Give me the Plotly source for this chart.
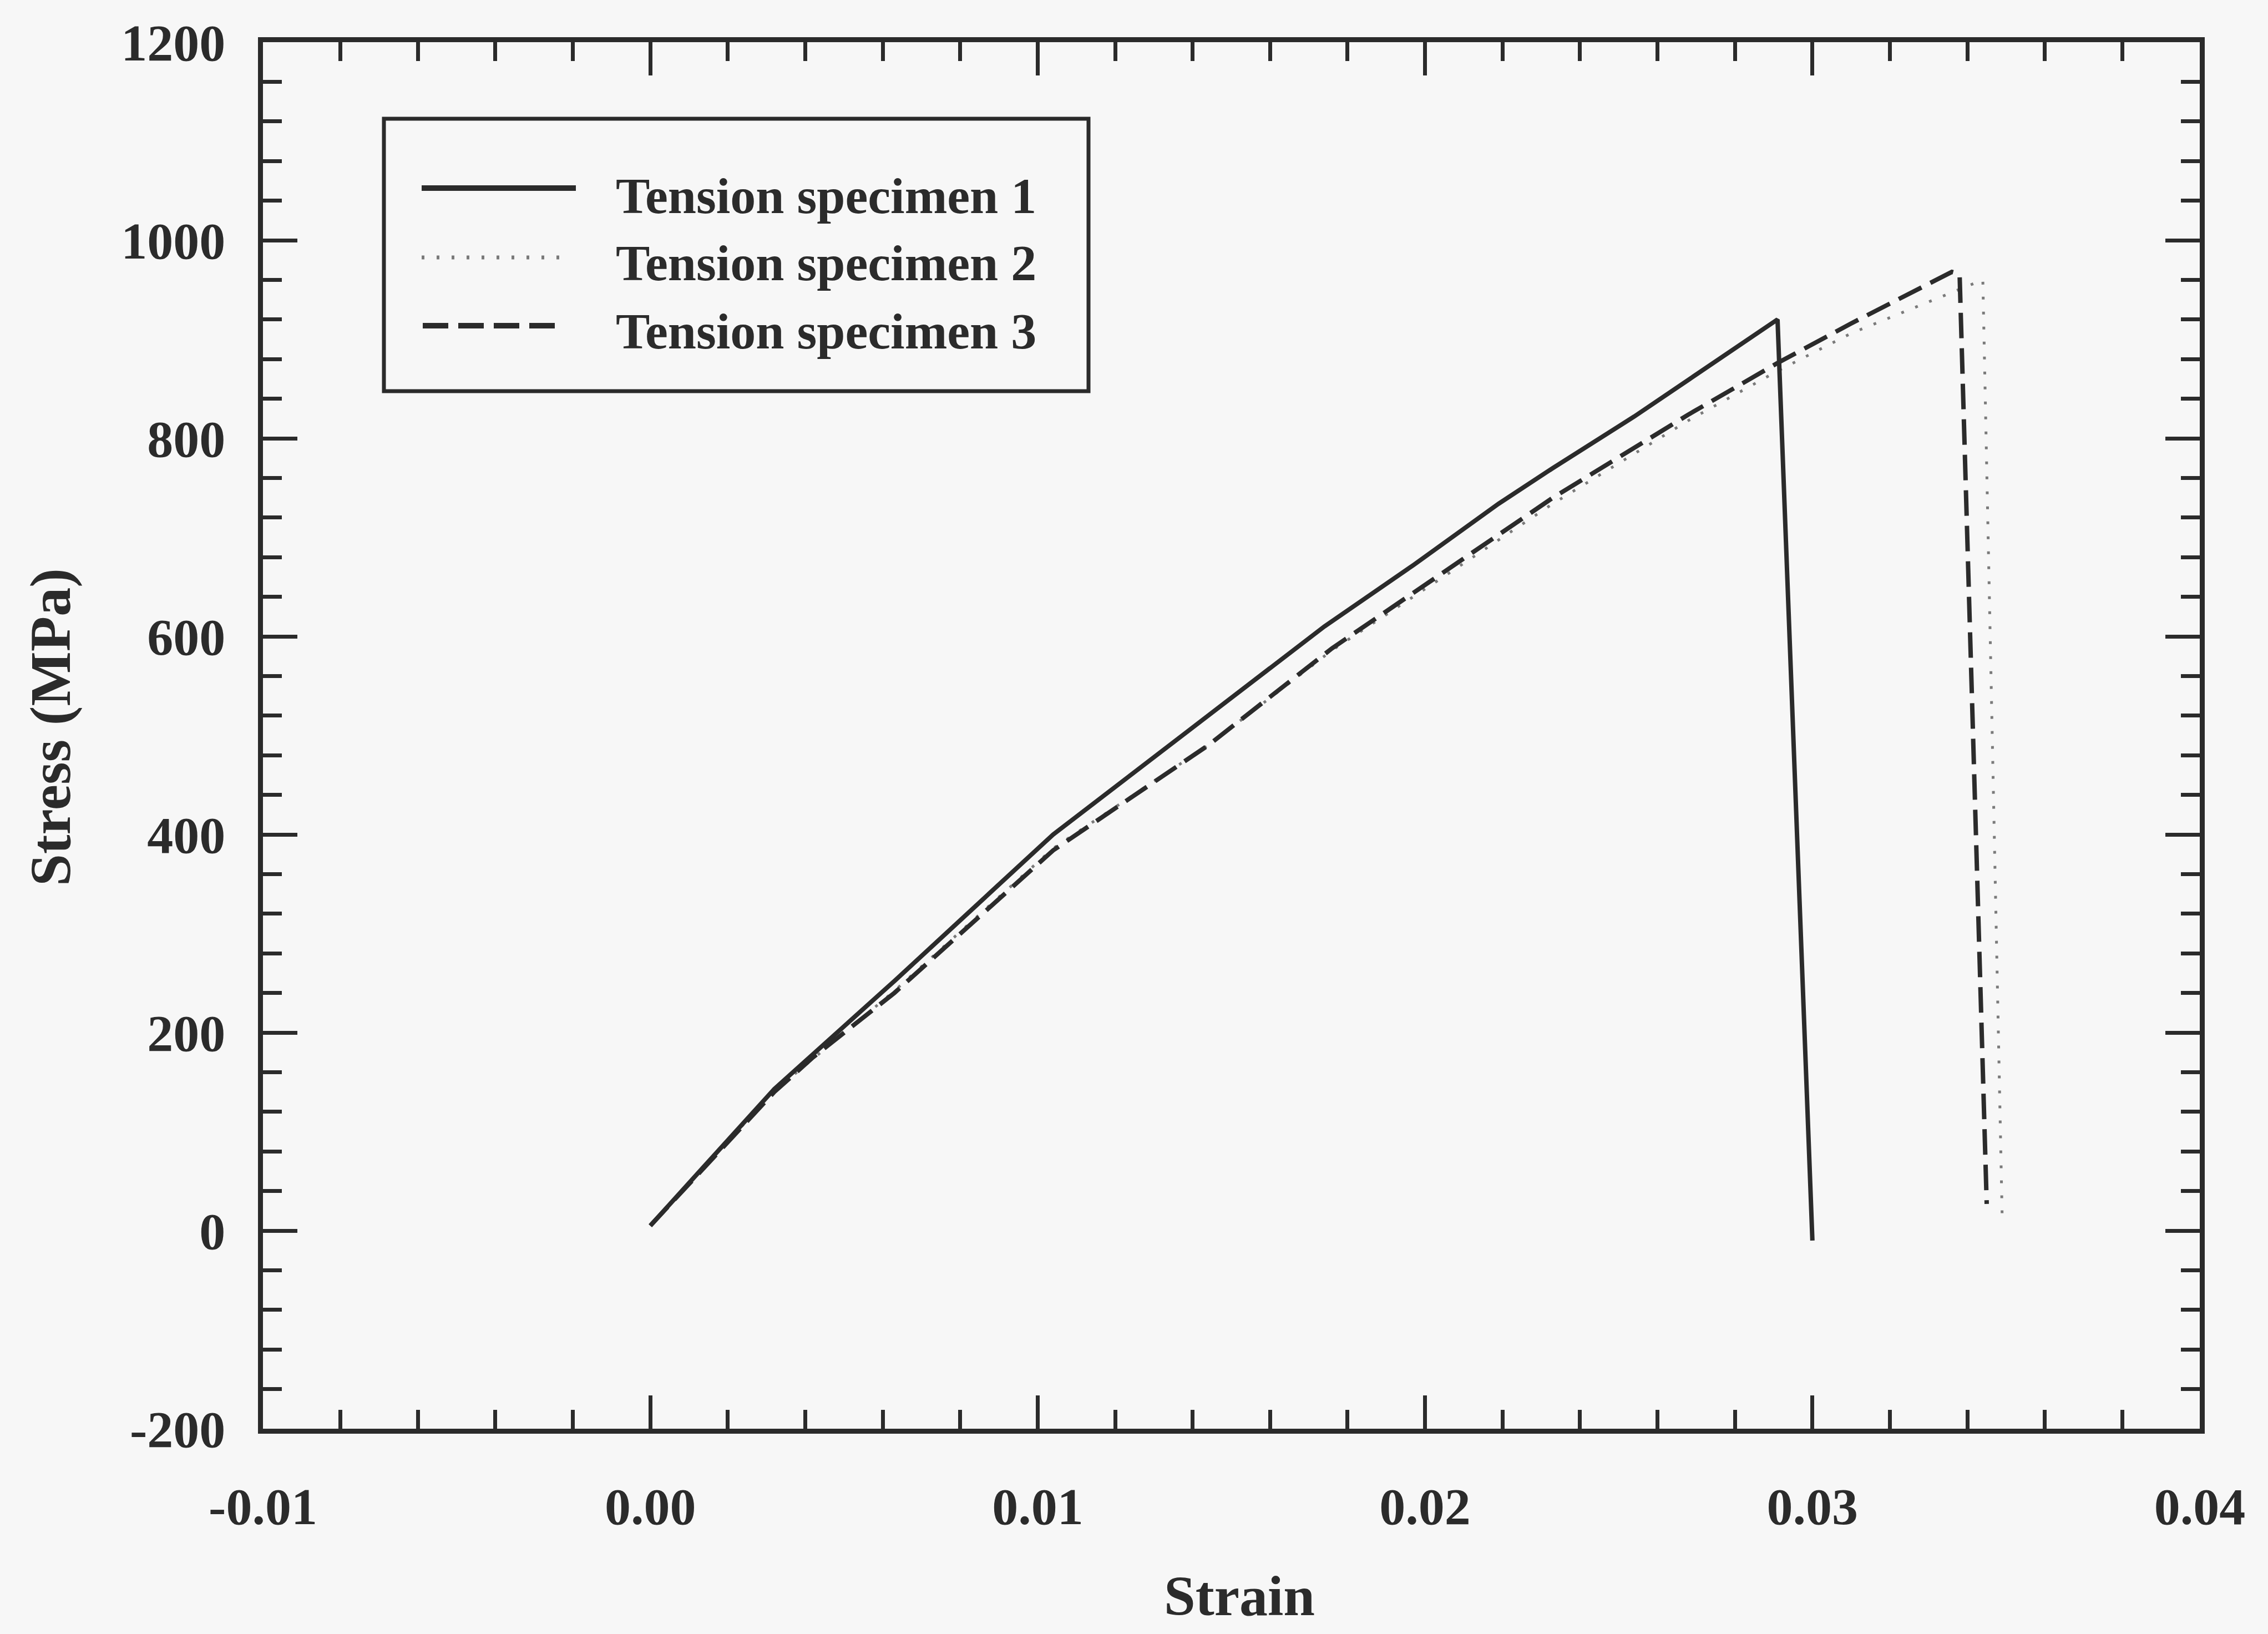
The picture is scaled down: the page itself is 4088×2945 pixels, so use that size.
import plotly.graph_objects as go

# ---- data ----
strain_s1 = [0.0000, 0.0032, 0.0063, 0.0077, 0.0104, 0.0139, 0.0174, 0.0197, 0.0219, 0.0233, 0.0254, 0.0291, 0.0300]
stress_s1 = [5, 143, 252, 303, 400, 505, 610, 672, 734, 770, 822, 920, -10]

strain_s2 = [0.0000, 0.0032, 0.0063, 0.0104, 0.0144, 0.0176, 0.0207, 0.0233, 0.0268, 0.0291, 0.0310, 0.0344, 0.0349]
stress_s2 = [5, 141, 242, 386, 490, 586, 666, 734, 818, 868, 906, 960, 12]

strain_s3 = [0.0000, 0.0032, 0.0042, 0.0063, 0.0104, 0.0144, 0.0176, 0.0207, 0.0233, 0.0268, 0.0291, 0.0310, 0.0336, 0.0338, 0.0345]
stress_s3 = [5, 140, 175, 240, 384, 490, 588, 670, 740, 824, 876, 916, 968, 966, 27]

series_names = ["Tension specimen 1", "Tension specimen 2", "Tension specimen 3"]

x_tick_vals = [-0.01, 0.00, 0.01, 0.02, 0.03, 0.04]
x_tick_labels = ["-0.01", "0.00", "0.01", "0.02", "0.03", "0.04"]
y_tick_vals = [-200, 0, 200, 400, 600, 800, 1000, 1200]
y_tick_labels = ["-200", "0", "200", "400", "600", "800", "1000", "1200"]

# ---- styling ----
FONT = "Liberation Serif"
INK = "#2b2b2b"
BG = "#f7f7f7"
W, H = 4088, 2945
L, R, T, B = 474, 123, 76, 370
PW, PH = W - L - R, H - T - B

def px_x(p):
    return (p - L) / PW

def px_y(p):
    return (H - B - p) / PH

styles = [
    dict(color=INK, width=8, dash="solid"),
    dict(color="#7a7a7a", width=5, dash="5px,22px"),
    dict(color=INK, width=8, dash="46px,18px"),
]

fig = go.Figure()
order = [1, 2, 0]  # draw specimen 1 on top
all_x = [strain_s1, strain_s2, strain_s3]
all_y = [stress_s1, stress_s2, stress_s3]
for i in order:
    fig.add_trace(go.Scatter(x=all_x[i], y=all_y[i], mode="lines", name=series_names[i],
                             line=styles[i], showlegend=False))

axis_common = dict(
    showgrid=False, zeroline=False, showline=True, linewidth=9, linecolor=INK,
    mirror="allticks", ticks="inside", tickwidth=7, tickcolor=INK,
    tickfont=dict(family=FONT, size=94, color=INK, weight="bold"),
)

fig.update_xaxes(
    range=[-0.01, 0.04], tickmode="array", tickvals=x_tick_vals, ticktext=x_tick_labels,
    ticklen=60, ticklabelstandoff=50,
    minor=dict(ticks="inside", tick0=-0.01, dtick=0.002, ticklen=34, tickwidth=7, tickcolor=INK),
    **axis_common,
)
fig.update_yaxes(
    range=[-200, 1200], tickmode="array", tickvals=y_tick_vals, ticktext=y_tick_labels,
    ticklen=62, ticklabelstandoff=40,
    minor=dict(ticks="inside", tick0=-200, dtick=40, ticklen=34, tickwidth=7, tickcolor=INK),
    **axis_common,
)

shapes = []
annotations = []
# legend box
shapes.append(dict(type="rect", xref="paper", yref="paper",
                   x0=px_x(692), x1=px_x(1962), y0=px_y(705), y1=px_y(214),
                   line=dict(color=INK, width=7), fillcolor=BG, layer="above"))
legend_line_px = [(760, 1038, 339), (760, 1030, 464), (762, 1010, 587)]
text_mid = [345, 466, 589]
for (x0, x1, yy), tm, name, st in zip(legend_line_px, text_mid, series_names, styles):
    shapes.append(dict(type="line", xref="paper", yref="paper",
                       x0=px_x(x0), x1=px_x(x1), y0=px_y(yy), y1=px_y(yy),
                       line=dict(color=st["color"], width=st["width"] + 2, dash=st["dash"]),
                       layer="above"))
    annotations.append(dict(text=name, xref="paper", yref="paper",
                            x=px_x(1108), y=px_y(tm + 8), xanchor="left", yanchor="middle",
                            showarrow=False,
                            font=dict(family=FONT, size=92, color=INK, weight="bold")))

annotations.append(dict(text="Strain", xref="paper", yref="paper",
                        x=px_x(2234), y=px_y(2876), xanchor="center", yanchor="middle",
                        showarrow=False,
                        font=dict(family=FONT, size=102, color=INK, weight="bold")))
annotations.append(dict(text="Stress (MPa)", xref="paper", yref="paper",
                        x=px_x(91), y=px_y(1311), xanchor="center", yanchor="middle",
                        textangle=-90, showarrow=False,
                        font=dict(family=FONT, size=104, color=INK, weight="bold")))

fig.update_layout(
    width=W, height=H,
    margin=dict(l=L, r=R, t=T, b=B, autoexpand=False),
    paper_bgcolor=BG, plot_bgcolor=BG,
    showlegend=False,
    shapes=shapes, annotations=annotations,
)

fig.write_html("out.html")
